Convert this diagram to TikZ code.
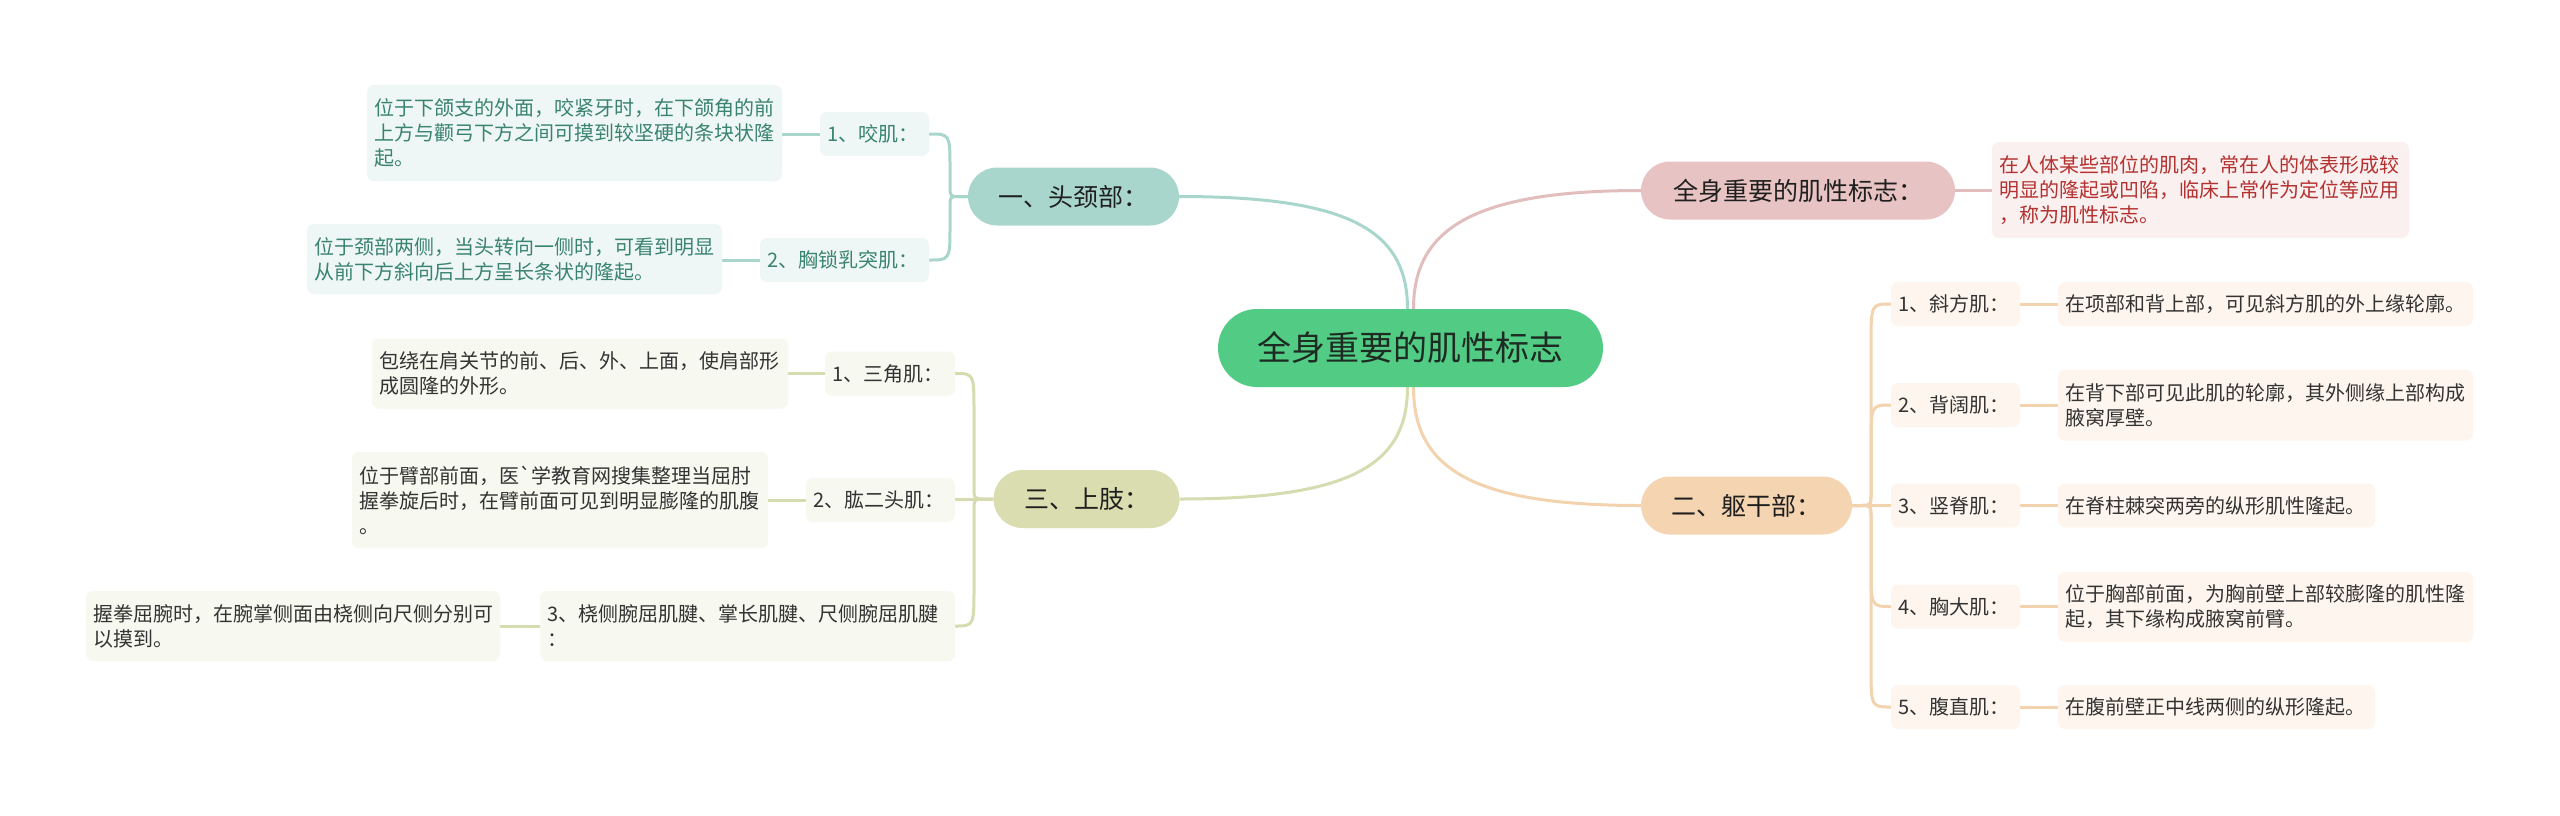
\documentclass[tikz,border=0pt]{standalone}
\usepackage{fontspec}
\newfontfamily\cjk{Noto Sans CJK SC}
\usetikzlibrary{calc}
\definecolor{cGreen}{HTML}{52CC84}
\definecolor{cRootT}{HTML}{1D2B22}
\definecolor{cTeal}{HTML}{A9D6CC}
\definecolor{cTealL}{HTML}{EEF7F5}
\definecolor{cTealT}{HTML}{3A8370}
\definecolor{cPink}{HTML}{E8C3C3}
\definecolor{cPinkL}{HTML}{FBF0F0}
\definecolor{cPinkT}{HTML}{B3312F}
\definecolor{cPinkLn}{HTML}{E2BDBD}
\definecolor{cOrange}{HTML}{F5D5B1}
\definecolor{cOrangeL}{HTML}{FEF6EE}
\definecolor{cOrangeLn}{HTML}{F2D3AE}
\definecolor{cOlive}{HTML}{D9DDB0}
\definecolor{cOliveL}{HTML}{F7F8EF}
\definecolor{cOliveLn}{HTML}{D6DBB0}
\definecolor{cText}{HTML}{333333}
\pgfdeclarelayer{bg}
\pgfsetlayers{bg,main}
\begin{document}
\begin{tikzpicture}[x=1pt,y=-1pt,
  rootnode/.style={fill=cGreen, rounded corners=39pt, minimum width=385pt, minimum height=78pt, inner sep=0pt, font=\cjk\fontsize{34}{40}\selectfont, text=cRootT},
  branch/.style={rounded corners=29pt, minimum height=58pt, inner sep=0pt, font=\cjk\fontsize{25}{30}\selectfont, text=black!88},
  sub/.style={rounded corners=7pt, inner xsep=7pt, inner ysep=0pt, align=left, font=\cjk\fontsize{20}{25}\selectfont},
  tsub/.style={sub, fill=cTealL, text=cTealT},
  psub/.style={sub, fill=cPinkL, text=cPinkT},
  osub/.style={sub, fill=cOrangeL, text=cText},
  lsub/.style={sub, fill=cOliveL, text=cText},
  conn/.style={line width=3pt},
  tline/.style={conn, draw=cTeal},
  pline/.style={conn, draw=cPinkLn},
  oline/.style={conn, draw=cOrangeLn},
  lline/.style={conn, draw=cOliveLn}]
\useasboundingbox (0,0) rectangle (2560,815);

% root and branches
\node[rootnode] (C) at (1410.5,348) {全身重要的肌性标志};
\node[branch, fill=cTeal, minimum width=211pt] (T) at (1073.5,196.5) {一、头颈部：};
\node[branch, fill=cPink, minimum width=314pt] (P) at (1798,190.5) {全身重要的肌性标志：};
\node[branch, fill=cOrange, minimum width=211pt] (O) at (1746.5,505.5) {二、躯干部：};
\node[branch, fill=cOlive, minimum width=186pt] (L) at (1086.5,499) {三、上肢：};

% pink description
\node[psub, text width=403pt, minimum height=96pt] (Pd) at (2200.5,190) {在人体某些部位的肌肉，常在人的体表形成较\\明显的隆起或凹陷，临床上常作为定位等应用\\，称为肌性标志。};

% teal children
\node[tsub, text width=95pt, minimum height=44pt] (T1) at (874.5,134) {1、咬肌：};
\node[tsub, text width=401pt, minimum height=96pt] (T1d) at (574.5,133) {位于下颌支的外面，咬紧牙时，在下颌角的前\\上方与颧弓下方之间可摸到较坚硬的条块状隆\\起。};
\node[tsub, text width=155pt, minimum height=44pt] (T2) at (844.5,260) {2、胸锁乳突肌：};
\node[tsub, text width=401pt, minimum height=70pt] (T2d) at (514.5,259) {位于颈部两侧，当头转向一侧时，可看到明显\\从前下方斜向后上方呈长条状的隆起。};

% olive children
\node[lsub, text width=116pt, minimum height=44pt] (L1) at (890,373.5) {1、三角肌：};
\node[lsub, text width=402pt, minimum height=70pt] (L1d) at (580,373.5) {包绕在肩关节的前、后、外、上面，使肩部形\\成圆隆的外形。};
\node[lsub, text width=135pt, minimum height=44pt] (L2) at (880.5,500) {2、肱二头肌：};
\node[lsub, text width=402pt, minimum height=96pt] (L2d) at (560,500) {位于臂部前面，医`学教育网搜集整理当屈肘\\握拳旋后时，在臂前面可见到明显膨隆的肌腹\\。};
\node[lsub, text width=401pt, minimum height=70pt] (L3) at (747.5,626) {3、桡侧腕屈肌腱、掌长肌腱、尺侧腕屈肌腱\\：};
\node[lsub, text width=400pt, minimum height=70pt] (L3d) at (293,626) {握拳屈腕时，在腕掌侧面由桡侧向尺侧分别可\\以摸到。};

% orange children
\node[osub, text width=115pt, minimum height=44pt] (O1) at (1955.5,304) {1、斜方肌：};
\node[osub, text width=401pt, minimum height=44pt] (O1d) at (2265.5,304) {在项部和背上部，可见斜方肌的外上缘轮廓。};
\node[osub, text width=115pt, minimum height=44pt] (O2) at (1955.5,405) {2、背阔肌：};
\node[osub, text width=401pt, minimum height=71pt] (O2d) at (2265.5,405) {在背下部可见此肌的轮廓，其外侧缘上部构成\\腋窝厚壁。};
\node[osub, text width=115pt, minimum height=44pt] (O3) at (1955.5,505.5) {3、竖脊肌：};
\node[osub, text width=303pt, minimum height=44pt] (O3d) at (2216.5,505.5) {在脊柱棘突两旁的纵形肌性隆起。};
\node[osub, text width=115pt, minimum height=44pt] (O4) at (1955.5,606.5) {4、胸大肌：};
\node[osub, text width=401pt, minimum height=70pt] (O4d) at (2265.5,607) {位于胸部前面，为胸前壁上部较膨隆的肌性隆\\起，其下缘构成腋窝前臂。};
\node[osub, text width=115pt, minimum height=44pt] (O5) at (1955.5,707) {5、腹直肌：};
\node[osub, text width=303pt, minimum height=44pt] (O5d) at (2216.5,707) {在腹前壁正中线两侧的纵形隆起。};

\coordinate (vT) at (950,0);
\coordinate (vL) at (974,0);
\coordinate (vO) at (1871,0);

\begin{pgfonlayer}{bg}
\fill[white] (0,0) rectangle (2560,815);
% main curves
\draw[tline] ($(C.north)+(-3,0)$) .. controls ($(C.north)+(-3,-78)$) and ($(T.east)+(171,0)$) .. (T.east);
\draw[pline] ($(C.north)+(3,0)$) .. controls ($(C.north)+(3,-78)$) and ($(P.west)+(-171,0)$) .. (P.west);
\draw[oline] ($(C.south)+(3,0)$) .. controls ($(C.south)+(3,80)$) and ($(O.west)+(-171,0)$) .. (O.west);
\draw[lline] ($(C.south)+(-3,0)$) .. controls ($(C.south)+(-3,78)$) and ($(L.east)+(171,0)$) .. (L.east);

% pink description connector
\draw[pline] (P.east) -- (P.east -| Pd.west);

% teal brackets
\draw[tline] (T.west) -- ++(-8,0) .. controls (vT |- T.west) .. ($(vT |- T.west)+(0,-10)$) -- ($(vT |- T1.east)+(0,35)$) .. controls (vT |- T1.east) .. (T1.east);
\draw[tline] (T.west) -- ++(-8,0) .. controls (vT |- T.west) .. ($(vT |- T.west)+(0,10)$) -- ($(vT |- T2.east)+(0,-35)$) .. controls (vT |- T2.east) .. (T2.east);
\draw[tline] (T1.west) -- (T1.west -| T1d.east);
\draw[tline] (T2.west) -- (T2.west -| T2d.east);

% olive brackets
\draw[lline] (L.west) -- ++(-8,0) .. controls (vL |- L.west) .. ($(vL |- L.west)+(0,-12)$) -- ($(vL |- L1.east)+(0,40)$) .. controls (vL |- L1.east) .. (L1.east);
\draw[lline] (L.west) -- (L.west -| L2.east);
\draw[lline] (L.west) -- ++(-8,0) .. controls (vL |- L.west) .. ($(vL |- L.west)+(0,12)$) -- ($(vL |- L3.east)+(0,-40)$) .. controls (vL |- L3.east) .. (L3.east);
\draw[lline] (L1.west) -- (L1.west -| L1d.east);
\draw[lline] (L2.west) -- (L2.west -| L2d.east);
\draw[lline] (L3.west) -- (L3.west -| L3d.east);

% orange brackets
\draw[oline] (O.east) -- ++(8,0) .. controls (vO |- O.east) .. ($(vO |- O.east)+(0,-12)$) -- ($(vO |- O1.west)+(0,42)$) .. controls (vO |- O1.west) .. (O1.west);
\draw[oline] (O.east) -- ++(8,0) .. controls (vO |- O.east) .. ($(vO |- O.east)+(0,-12)$) -- ($(vO |- O2.west)+(0,42)$) .. controls (vO |- O2.west) .. (O2.west);
\draw[oline] (O.east) -- (O.east -| O3.west);
\draw[oline] (O.east) -- ++(8,0) .. controls (vO |- O.east) .. ($(vO |- O.east)+(0,12)$) -- ($(vO |- O4.west)+(0,-42)$) .. controls (vO |- O4.west) .. (O4.west);
\draw[oline] (O.east) -- ++(8,0) .. controls (vO |- O.east) .. ($(vO |- O.east)+(0,12)$) -- ($(vO |- O5.west)+(0,-42)$) .. controls (vO |- O5.west) .. (O5.west);
\draw[oline] (O1.east) -- (O1.east -| O1d.west);
\draw[oline] (O2.east) -- (O2.east -| O2d.west);
\draw[oline] (O3.east) -- (O3.east -| O3d.west);
\draw[oline] (O4.east) -- (O4.east -| O4d.west);
\draw[oline] (O5.east) -- (O5.east -| O5d.west);
\end{pgfonlayer}
\end{tikzpicture}
\end{document}
